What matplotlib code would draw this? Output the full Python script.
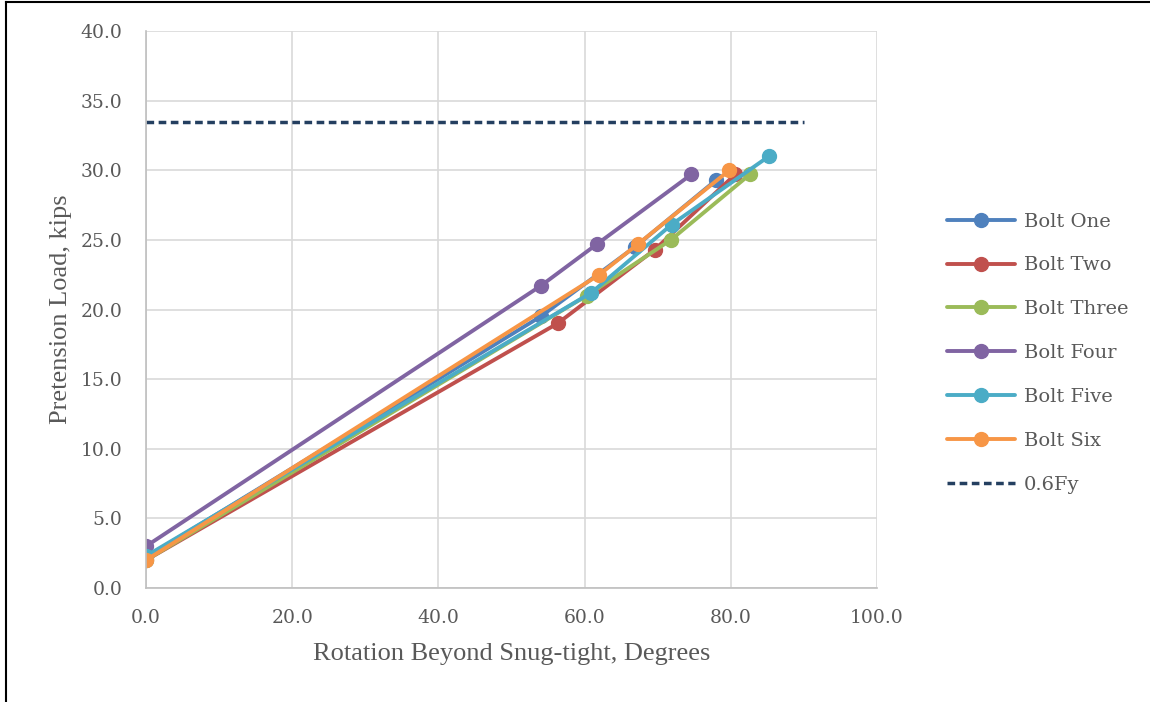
import matplotlib.pyplot as plt

# rotation beyond snug-tight (deg) and pretension load (kips) for each bolt
bolt_one_x = [0.0, 54.0, 66.9, 78.0]
bolt_one_y = [2.2, 19.5, 24.5, 29.3]
bolt_two_x = [0.0, 56.3, 69.6, 80.6]
bolt_two_y = [2.0, 19.0, 24.3, 29.7]
bolt_three_x = [0.0, 60.3, 71.8, 82.6]
bolt_three_y = [2.0, 21.0, 25.0, 29.7]
bolt_four_x = [0.0, 54.0, 61.7, 74.6]
bolt_four_y = [3.0, 21.7, 24.7, 29.7]
bolt_five_x = [0.0, 60.9, 71.9, 85.2]
bolt_five_y = [2.3, 21.2, 26.1, 31.0]
bolt_six_x = [0.0, 62.0, 67.3, 79.8]
bolt_six_y = [2.0, 22.5, 24.7, 30.0]

fy_x = [0.0, 90.0]
fy_y = [33.5, 33.5]

names = ["Bolt One", "Bolt Two", "Bolt Three", "Bolt Four", "Bolt Five", "Bolt Six"]
colors = ["#4F81BD", "#C0504D", "#9BBB59", "#8064A2", "#4BACC6", "#F79646"]
xs = [bolt_one_x, bolt_two_x, bolt_three_x, bolt_four_x, bolt_five_x, bolt_six_x]
ys = [bolt_one_y, bolt_two_y, bolt_three_y, bolt_four_y, bolt_five_y, bolt_six_y]

plt.rcParams['font.family'] = ['DejaVu Serif']
txt = '#595959'

fig = plt.figure(figsize=(11.5, 7.02), dpi=100)
ax = fig.add_axes([0.127, 0.1624, 0.6356, 0.7934])

for x, y, c, n in zip(xs, ys, colors, names):
    ax.plot(x, y, color=c, lw=2.8, marker='o', ms=10, label=n, solid_capstyle='round')
ax.plot(fy_x, fy_y, color='#243F60', lw=2.5, ls=(0, (2.2, 1.3)), label='0.6Fy')

ax.set_xlim(0, 100)
ax.set_ylim(0, 40)
ax.set_xticks(range(0, 101, 20))
ax.set_yticks(range(0, 41, 5))
ax.set_xticklabels([f"{v:.1f}" for v in range(0, 101, 20)])
ax.set_yticklabels([f"{v:.1f}" for v in range(0, 41, 5)])
ax.grid(True, color='#D9D9D9', lw=1.2)
ax.set_axisbelow(True)
for s in ['top', 'right']:
    ax.spines[s].set_visible(False)
for s in ['left', 'bottom']:
    ax.spines[s].set_color('#BFBFBF')
    ax.spines[s].set_linewidth(1.2)
ax.tick_params(length=0, labelsize=13.5, colors=txt)
ax.tick_params(axis='y', pad=17)
ax.tick_params(axis='x', pad=15)
ax.set_xlabel('Rotation Beyond Snug-tight, Degrees', fontsize=19, color=txt,
              labelpad=12, family='Liberation Serif')
ax.set_ylabel('Pretension Load, kips', fontsize=19, color=txt,
              labelpad=6, family='Liberation Serif')

leg = fig.legend(loc='center left', bbox_to_anchor=(0.808, 0.497), frameon=False,
                 fontsize=14, labelspacing=1.33, handlelength=3.5, handletextpad=0.45)
for t in leg.get_texts():
    t.set_color(txt)

# page border on top and left
fig.add_artist(plt.Line2D([0.005, 0.005], [0, 0.997], color='black', lw=1.5, transform=fig.transFigure))
fig.add_artist(plt.Line2D([0.005, 1.0], [0.997, 0.997], color='black', lw=1.5, transform=fig.transFigure))

fig.savefig('out.png', dpi=100)
